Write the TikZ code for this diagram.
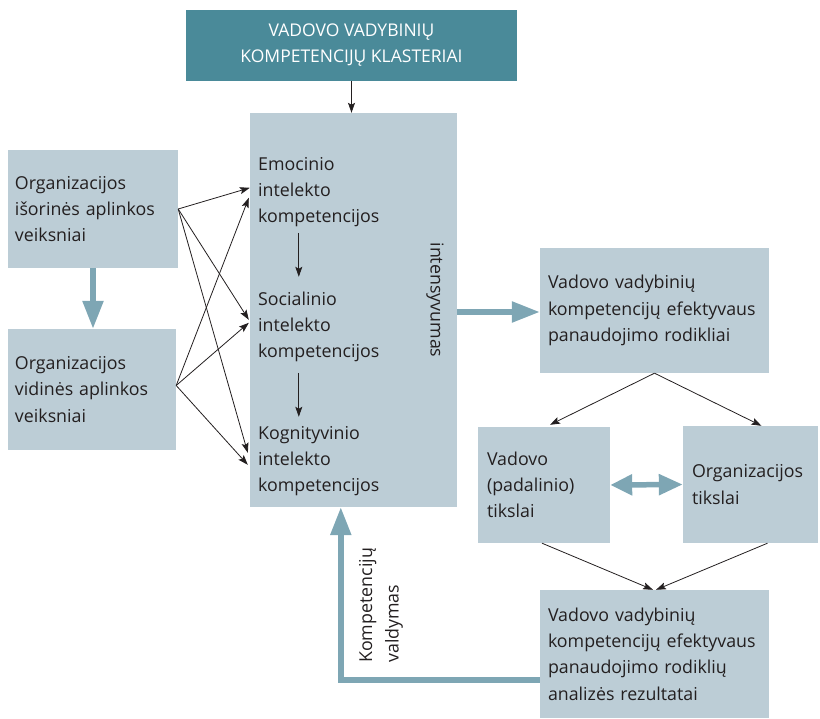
\documentclass[tikz,border=0pt]{standalone}
\usepackage{fontspec}
\setmainfont{Open Sans}
\usetikzlibrary{arrows.meta,calc}
\definecolor{topcol}{HTML}{4A8A99}
\definecolor{boxcol}{HTML}{BCCDD6}
\definecolor{flowcol}{HTML}{7EA6B4}
\definecolor{inkcol}{HTML}{231F20}

\begin{document}
\begin{tikzpicture}[x=1pt,y=-1pt,
  txt/.style={font=\fontsize{17.8}{26.3}\selectfont, text=inkcol},
  box/.style={txt, fill=boxcol, inner ysep=0pt, align=left},
  lbl/.style={txt, inner sep=0pt, align=left},
  thin/.style={draw=inkcol, line width=0.8pt, -{Stealth[length=10pt,width=7pt,inset=2pt]}},
  flow/.style={draw=flowcol, line width=5.5pt, -{Triangle[length=28pt,width=20pt]}},
  biflow/.style={draw=flowcol, line width=5.5pt, {Triangle[length=22pt,width=20pt]}-{Triangle[length=24pt,width=20pt]}},
]
\useasboundingbox (0,0) rectangle (820,719);

% heading
\node[fill=topcol, minimum width=331pt, minimum height=71pt, inner sep=0pt,
      text=white, align=center, font=\fontsize{17.5}{26}\selectfont]
  (top) at (351.5,45.5) {VADOVO VADYBINIŲ\\KOMPETENCIJŲ KLASTERIAI};

% central cluster box
\node[fill=boxcol, minimum width=207pt, minimum height=394pt, inner sep=0pt]
  (main) at (353.5,310) {};
\node[lbl, anchor=west] (emo) at (258,192) {Emocinio\\intelekto\\kompetencijos};
\node[lbl, anchor=west] (soc) at (258,327) {Socialinio\\intelekto\\kompetencijos};
\node[lbl, anchor=west] (kog) at (258,461) {Kognityvinio\\intelekto\\kompetencijos};
\node[lbl, rotate=-90] (int) at (435,300) {intensyvumas};

% environment factors
\node[box, inner xsep=7pt, text width=156pt, minimum height=118pt]
  (b1) at (93,209) {Organizacijos\\išorinės aplinkos\\veiksniai};
\node[box, inner xsep=7pt, text width=154pt, minimum height=121pt]
  (b2) at (92,389.5) {Organizacijos\\vidinės aplinkos\\veiksniai};

% right-hand chain
\node[box, inner xsep=8pt, text width=213pt, minimum height=125pt]
  (r1) at (654.5,310.5) {Vadovo vadybinių\\kompetencijų efektyvaus\\panaudojimo rodikliai};
\node[box, inner xsep=9pt, text width=114pt, minimum height=116pt]
  (r2) at (544,485) {Vadovo\\(padalinio)\\tikslai};
\node[box, inner xsep=9pt, text width=117pt, minimum height=117pt]
  (r3) at (750.5,484.5) {Organizacijos\\tikslai};
\node[box, inner xsep=8pt, text width=213pt, minimum height=128pt]
  (r4) at (654.5,654) {Vadovo vadybinių\\kompetencijų efektyvaus\\panaudojimo rodiklių\\analizės rezultatai};

\node[lbl, rotate=90, anchor=west] (val) at (381,663) {Kompetencijų\\valdymas};

% connectors
\draw[thin] (top.south) -- (top.south |- main.north);

\draw[thin] (b1.east) -- ($(main.north west)+(0,75)$);
\draw[thin] (b1.east) -- ($(main.north west)+(-1,207)$);
\draw[thin] (b1.east) -- ($(main.north west)+(-2,340)$);
\draw[thin] ($(b2.east)+(0,-4)$) -- ($(main.north west)+(-1,85)$);
\draw[thin] ($(b2.east)+(0,-4)$) -- ($(main.north west)+(-1,210)$);
\draw[thin] ($(b2.east)+(0,-4)$) -- ($(main.north west)+(-2,352)$);

\draw[thin] ($(main.north west)+(49,120)$) -- ($(main.north west)+(49,164)$);
\draw[thin] ($(main.north west)+(49,260)$) -- ($(main.north west)+(49,304)$);

\draw[flow] (b1.south) -- (b1.south |- b2.north);
\draw[flow] ($(main.east)+(0,2)$) -- ($(main.east -| r1.west)+(0,2)$);

\draw[thin] (r1.south) -- ($(r2.north)+(6,-2)$);
\draw[thin] (r1.south) -- ($(r3.north)+(11,0)$);
\draw[thin] ($(r2.south)+(-2,0)$) -- ($(r4.north)+(-1.5,0)$);
\draw[thin] ($(r3.south)+(17,0)$) -- ($(r4.north)+(1.5,0)$);

\draw[biflow] (r2.east) -- (r3.west);

\draw[flow, line join=miter] ($(r4.west)+(0,26)$) -| ($(main.south west)+(91,0)$);
\end{tikzpicture}
\end{document}
